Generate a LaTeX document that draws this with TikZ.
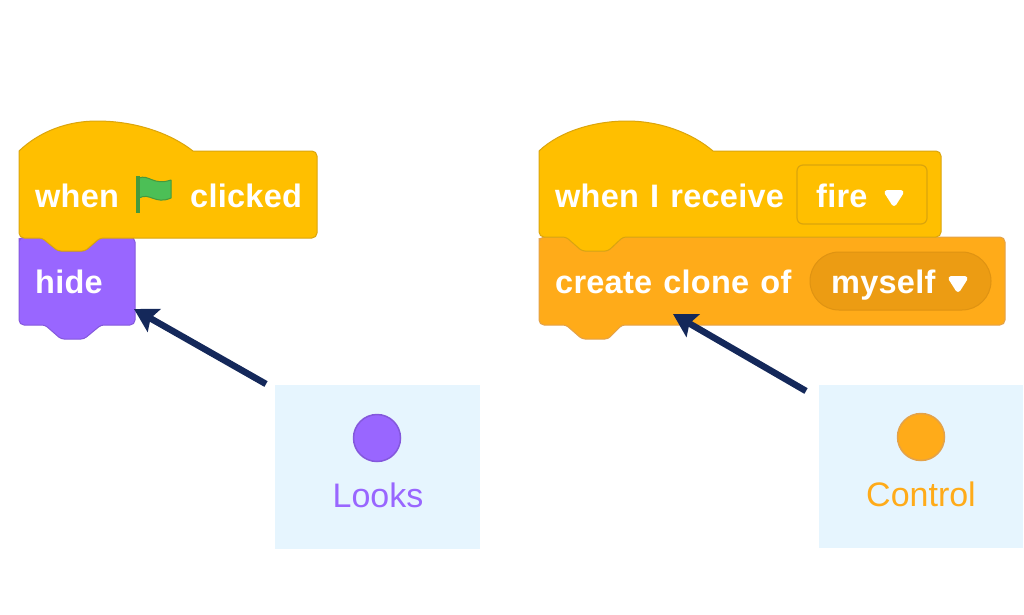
\documentclass[tikz,border=0pt]{standalone}
\usepackage{fontspec}
\setmainfont{Liberation Sans}
\newfontfamily\blockfont[LetterSpace=0.8,WordSpace=1.2]{Liberation Sans}
\usetikzlibrary{arrows.meta}
\definecolor{hatY}{HTML}{FFBF00}
\definecolor{hatB}{HTML}{DBA50C}
\definecolor{lookP}{HTML}{9966FF}
\definecolor{lookB}{HTML}{8458DC}
\definecolor{ctrlO}{HTML}{FFAB19}
\definecolor{ctrlB}{HTML}{E3A24A}
\definecolor{pillO}{HTML}{EC9C13}
\definecolor{pillB}{HTML}{DF9312}
\definecolor{navy}{HTML}{14285A}
\definecolor{panel}{HTML}{E6F5FE}
\definecolor{flagG}{HTML}{4CBF56}
\definecolor{flagB}{HTML}{45993D}
\tikzset{
  blocktext/.style={inner sep=0pt,anchor=base west,text=white,font=\blockfont\bfseries\fontsize{32.5}{36}\selectfont},
  hatblock/.style={fill=hatY,draw=hatB,line width=1pt},
  lookblock/.style={fill=lookP,draw=lookB,line width=1pt},
  ctrlblock/.style={fill=ctrlO,draw=ctrlB,line width=1pt},
  panelbox/.style={fill=panel,draw=none,inner sep=0pt},
  swatch/.style={circle,minimum size=47pt,inner sep=0pt,line width=1.5pt},
  caption/.style={inner sep=0pt,anchor=base,font=\fontsize{34}{38}\selectfont},
  pointer/.style={draw=navy,line width=6.5pt,-{Stealth[length=23pt,width=26pt,inset=4pt,fill=navy]}},
  menutri/.style={fill=white,draw=white,line width=5pt,line join=round}
}
\begin{document}
\begin{tikzpicture}[x=1pt,y=-1pt]
\useasboundingbox (0,0) rectangle (1024,614);
\fill[white] (0,0) rectangle (1024,614);
% ---------- left stack
\path[lookblock,rounded corners=5pt] (19,243) -- (19,237) [rounded corners=3pt] -- (42,237) -- (58,251) -- (85,251) -- (101,237) [rounded corners=5pt] -- (135,237) -- (135,325) [rounded corners=3pt] -- (101,325) -- (84,339) -- (61,339) -- (45,325) [rounded corners=5pt] -- (19,325) -- cycle;
\path[hatblock] (19,151) .. controls (40,131) and (68,121) .. (97,121) .. controls (135,121) and (170,133) .. (193,151) -- (200,151) [rounded corners=5pt] -- (317,151) -- (317,238) [rounded corners=3pt] -- (100,238) -- (85,251) -- (58,251) -- (42,238) [rounded corners=5pt] -- (19,238) -- (19,200) [sharp corners] -- cycle;
\node[blocktext] (whenL) at (35,207) {when};
\path[fill=flagG,draw=flagB,line width=1pt,line join=round] (139,178) .. controls (149,174) and (153,186) .. (171,180) -- (171,198) .. controls (155,205) and (150,192) .. (139,198) -- cycle;
\draw[flagB,line width=3.5pt] (138,176) -- (138,213);
\node[blocktext] (clicked) at (190,207) {clicked};
\node[blocktext] (hide) at (35,293) {hide};
% ---------- right stack
\path[ctrlblock,rounded corners=5pt] (539,243) -- (539,237) [rounded corners=3pt] -- (566,237) -- (582,251) -- (608,251) -- (623,237) [rounded corners=5pt] -- (1005,237) -- (1005,325) [rounded corners=3pt] -- (622,325) -- (608,339) -- (582,339) -- (566,325) [rounded corners=5pt] -- (539,325) -- cycle;
\path[hatblock] (539,151) .. controls (560,131) and (595,121) .. (627,121) .. controls (660,121) and (692,133) .. (713,151) -- (720,151) [rounded corners=5pt] -- (941,151) -- (941,237) [rounded corners=3pt] -- (623,237) -- (608,251) -- (582,251) -- (566,237) [rounded corners=5pt] -- (539,237) -- (539,200) [sharp corners] -- cycle;
\node[blocktext] (whenI) at (555,207) {when I receive};
\draw[hatB,line width=1.2pt,rounded corners=6pt] (797,165) rectangle (927,224);
\node[blocktext] (fire) at (816,207) {fire};
\path[menutri] (887,192.5) -- (901,192.5) -- (894,203.5) -- cycle;
\node[blocktext] (create) at (555,293) {create clone of};
\path[fill=pillO,draw=pillB,line width=1pt,rounded corners=29pt] (810,252) rectangle (991,310);
\node[blocktext] (myself) at (831,293) {myself};
\path[menutri] (951,278.5) -- (965,278.5) -- (958,289.5) -- cycle;
% ---------- legend panels
\node[panelbox,minimum width=205pt,minimum height=164pt] (panelL) at (377.5,467) {};
\node[panelbox,minimum width=204pt,minimum height=163pt] (panelR) at (921,466.5) {};
\node[swatch,fill=lookP,draw=lookB] (dotL) at (377,438) {};
\node[swatch,fill=ctrlO,draw=ctrlB] (dotR) at (921,437) {};
\node[caption,text=lookP] (looks) at (378,507) {Looks};
\node[caption,text=ctrlO] (control) at (921,506) {Control};
% ---------- arrows
\coordinate (tailL) at (266,384);
\coordinate (tipL) at (134,309);
\coordinate (tailR) at (806,391);
\coordinate (tipR) at (673,314);
\draw[pointer] (tailL) -- (tipL);
\draw[pointer] (tailR) -- (tipR);
\end{tikzpicture}
\end{document}
